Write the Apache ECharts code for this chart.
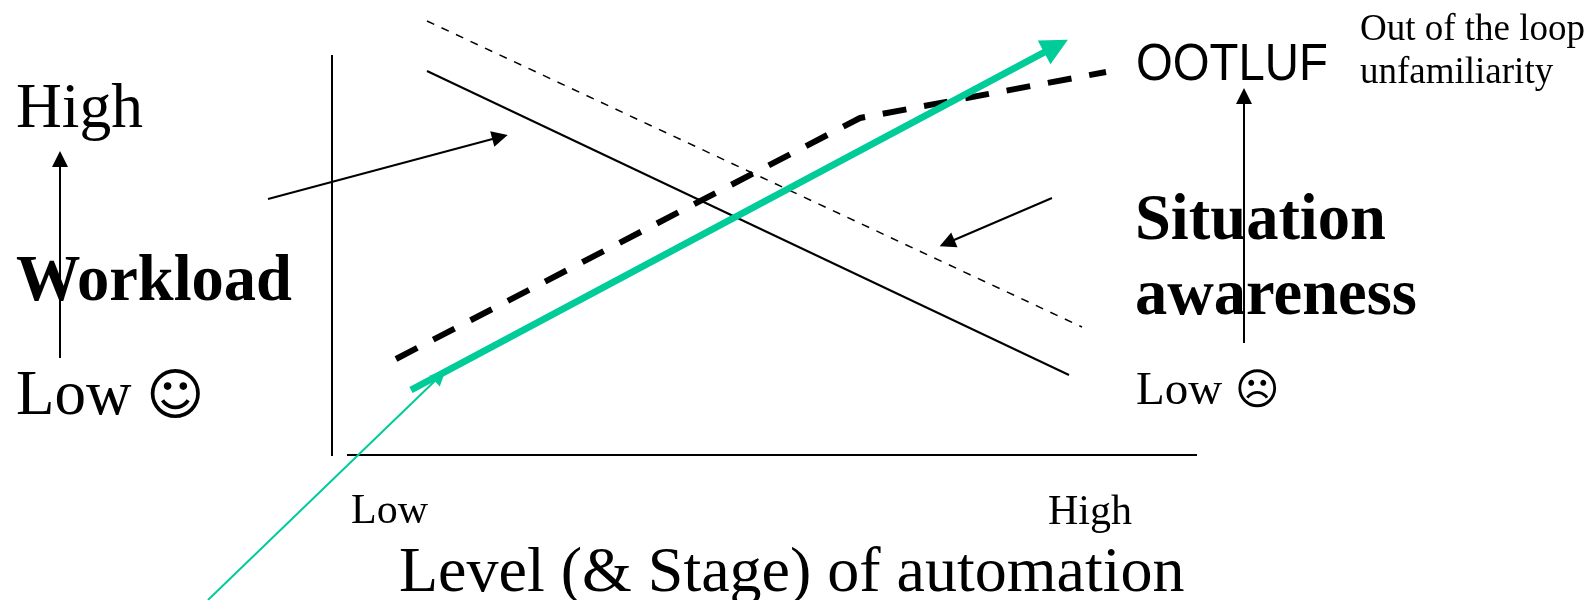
<!DOCTYPE html>
<html>
<head>
<meta charset="utf-8">
<title>Level of automation</title>
<script src="https://cdn.jsdelivr.net/npm/echarts@6/dist/echarts.min.js"></script>
<style>
html, body { margin: 0; padding: 0; background: #fff; }
#main { width: 1596px; height: 600px; }
</style>
</head>
<body>
<div id="main"></div>
<script>
// values, on a 1596 x 600 scale
const workloadManual = [[427, 71], [1069, 375]];
const workloadAuto = [[427, 21], [1082, 327]];
const ootluf = [[396, 359], [860, 118], [1106, 72]];
const awareness = [[411, 390], [1056, 46]];
const yAxisLine = [[332, 55], [332, 456]];
const xAxisLine = [[347, 455], [1197, 455]];
const workloadArrow = [[60, 358], [60, 159]];
const awarenessArrow = [[1244, 343], [1244, 96]];
const pointerLeft = [[268, 199], [500, 137]];
const pointerRight = [[1052, 198], [947, 243]];
const pointerGreen = [[208, 600], [440, 376]];

const serif = '"Liberation Serif", "Times New Roman", serif';
const sans = '"Liberation Sans", Arial, sans-serif';
const symbols = '"DejaVu Sans", sans-serif';

const labels = ['High', 'Workload', 'Low', '☺', 'Low', 'High', 'Level (& Stage) of automation',
	'OOTLUF', 'Out of the loop', 'unfamiliarity', 'Situation', 'awareness', 'Low', '☹'];
// x, baseline y, font size, weight, family, x stretch: same order as labels
const labelStyles = [
	[16, 128, 63.5, 'normal', serif, 1],
	[16, 302, 64.5, 'bold', serif, 1],
	[16, 415, 63, 'normal', serif, 1],
	[146, 415, 56, 'normal', symbols, 1],
	[351, 524, 42, 'normal', serif, 1],
	[1048, 525, 42, 'normal', serif, 1],
	[399, 592, 64, 'normal', serif, 1],
	[1136, 80, 52, 'normal', sans, 0.91],
	[1360, 41, 37, 'normal', serif, 1],
	[1360, 84, 37, 'normal', serif, 1],
	[1135, 241, 64.5, 'bold', serif, 1],
	[1135, 316, 64.5, 'bold', serif, 1],
	[1136, 405, 47, 'normal', serif, 1],
	[1235, 405, 43, 'normal', symbols, 1]
];

const chart = echarts.init(document.getElementById('main'));

function plainLine(name, data, width, type, color, z) {
	return {
		name,
		type: 'line',
		data,
		z,
		showSymbol: false,
		silent: true,
		lineStyle: { width, type, color: color || '#000', cap: 'butt' }
	};
}

function arrowLine(name, coords, width, color, headSize, z) {
	return {
		name,
		type: 'lines',
		coordinateSystem: 'cartesian2d',
		z,
		silent: true,
		symbol: ['none', 'triangle'],
		symbolSize: headSize,
		lineStyle: { width, color, opacity: 1, curveness: 0 },
		data: [{ coords }]
	};
}

const option = {
	animation: false,
	backgroundColor: '#fff',
	grid: { left: 0, right: 0, top: 0, bottom: 0 },
	xAxis: { type: 'value', min: 0, max: 1596, show: false },
	yAxis: { type: 'value', min: 0, max: 600, inverse: true, show: false },
	series: [
		plainLine('y axis', yAxisLine, 2, 'solid', '#000', 2),
		plainLine('x axis', xAxisLine, 2, 'solid', '#000', 2),
		plainLine('workload', workloadManual, 2, 'solid', '#000', 3),
		plainLine('workload automated', workloadAuto, 1.5, [8, 8], '#000', 3),
		plainLine('OOTLUF', ootluf, 6, [24, 18], '#000', 4),
		arrowLine('situation awareness', awareness, 7, '#00cc99', 27, 5),
		arrowLine('workload scale', workloadArrow, 2, '#000', 16, 3),
		arrowLine('awareness scale', awarenessArrow, 2, '#000', 16, 3),
		arrowLine('pointer left', pointerLeft, 2, '#000', 16, 3),
		arrowLine('pointer right', pointerRight, 2, '#000', 16, 3),
		arrowLine('pointer green', pointerGreen, 2, '#00cc99', 15, 6)
	],
	graphic: labels.map((text, i) => {
		const [x, y, size, weight, family, stretch] = labelStyles[i];
		return {
			type: 'text',
			silent: true,
			z: 10,
			x,
			// text is anchored by its bottom edge, the descent sits below the baseline
			y: y + size * 0.22,
			scaleX: stretch,
			style: {
				text,
				fill: '#000',
				font: `${weight} ${size}px ${family}`,
				verticalAlign: 'bottom'
			}
		};
	})
};

chart.setOption(option);
</script>
</body>
</html>
